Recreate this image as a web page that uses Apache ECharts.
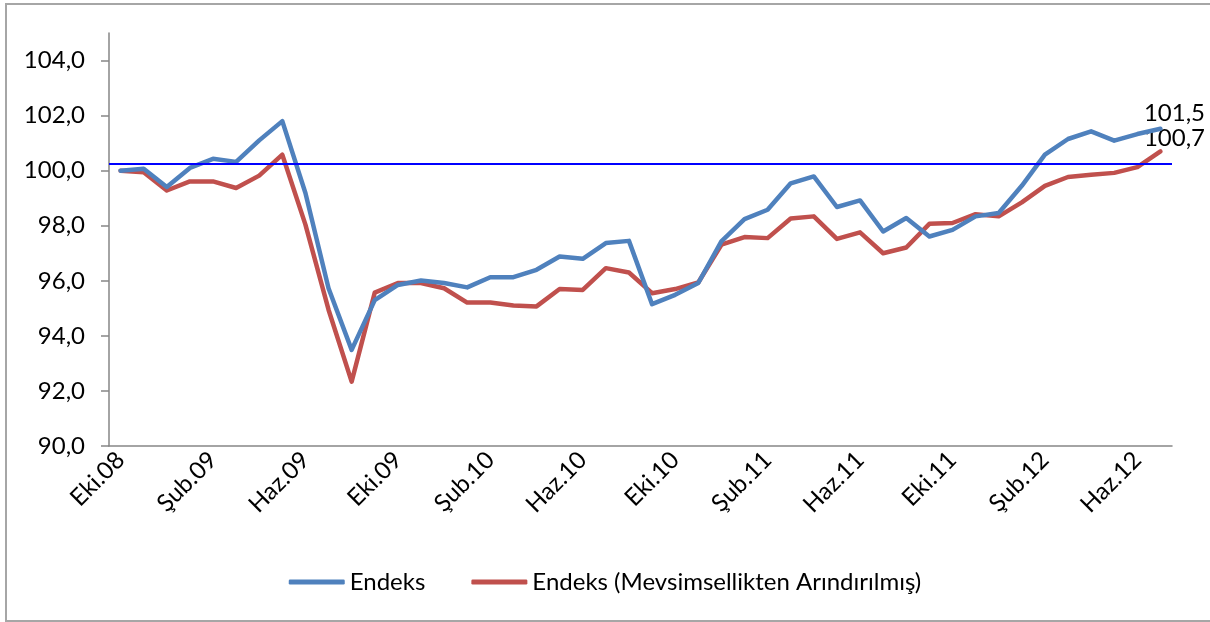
<!DOCTYPE html>
<html>
<head>
<meta charset="utf-8">
<script src="https://cdn.jsdelivr.net/npm/echarts@6/dist/echarts.min.js"></script>
<style>
  body { margin: 0; background: #ffffff; overflow: hidden; }
  #frame {
    position: absolute;
    left: 5px;
    top: 3px;
    width: 1215px;
    height: 615px;
    border: 2px solid #a6a6a6;
  }
  #main {
    position: absolute;
    left: 0;
    top: 0;
    width: 1210px;
    height: 622px;
  }
</style>
</head>
<body>
<div id="frame"></div>
<div id="main"></div>
<script>
// aylar: Eki.08 - Tem.12
var months = [
  "Eki.08", "Kas.08", "Ara.08",
  "Oca.09", "Şub.09", "Mar.09", "Nis.09", "May.09", "Haz.09", "Tem.09", "Ağu.09", "Eyl.09", "Eki.09", "Kas.09", "Ara.09",
  "Oca.10", "Şub.10", "Mar.10", "Nis.10", "May.10", "Haz.10", "Tem.10", "Ağu.10", "Eyl.10", "Eki.10", "Kas.10", "Ara.10",
  "Oca.11", "Şub.11", "Mar.11", "Nis.11", "May.11", "Haz.11", "Tem.11", "Ağu.11", "Eyl.11", "Eki.11", "Kas.11", "Ara.11",
  "Oca.12", "Şub.12", "Mar.12", "Nis.12", "May.12", "Haz.12", "Tem.12"
];

var endeks = [
  100.0, 100.07, 99.41, 100.1, 100.43, 100.32, 101.1, 101.8, 99.19, 95.73,
  93.49, 95.3, 95.85, 96.01, 95.92, 95.76, 96.13, 96.13, 96.4, 96.88,
  96.8, 97.37, 97.45, 95.15, 95.49, 95.92, 97.43, 98.24, 98.58, 99.54,
  99.79, 98.68, 98.92, 97.79, 98.28, 97.61, 97.85, 98.34, 98.46, 99.45,
  100.58, 101.15, 101.43, 101.09, 101.33, 101.52
];

var endeksMa = [
  100.0, 99.94, 99.28, 99.61, 99.61, 99.37, 99.82, 100.58, 98.04, 94.95,
  92.34, 95.57, 95.92, 95.92, 95.73, 95.21, 95.21, 95.1, 95.07, 95.7,
  95.67, 96.46, 96.3, 95.55, 95.7, 95.94, 97.31, 97.59, 97.55, 98.26,
  98.34, 97.52, 97.76, 97.0, 97.21, 98.07, 98.1, 98.42, 98.34, 98.85,
  99.45, 99.77, 99.85, 99.92, 100.13, 100.7
];

var yTicks = [90, 92, 94, 96, 98, 100, 102, 104];
var refLevel = 100.25;

var fontName = "Lato";
var fontSize = 24;

function virgul(v) {
  return Number(v).toFixed(1).replace(".", ",");
}

// sadece son noktaya etiket
function withLastLabel(arr, offset) {
  return arr.map(function (v, i) {
    if (i !== arr.length - 1) return v;
    return {
      value: v,
      label: {
        show: true,
        position: "top",
        distance: 4,
        offset: offset,
        formatter: function (p) { return virgul(p.value); },
        color: "#000000",
        fontSize: fontSize,
        fontFamily: fontName
      }
    };
  });
}

var chartDom = document.getElementById("main");
var myChart = echarts.init(chartDom);

var option = {
  animation: false,
  textStyle: { fontFamily: fontName },
  grid: {
    left: 109,
    right: 38,
    top: 33,
    bottom: 176
  },
  legend: {
    top: 565,
    left: "center",
    itemWidth: 56,
    itemHeight: 5,
    itemGap: 46,
    icon: "roundRect",
    textStyle: { fontSize: fontSize, color: "#000000", fontFamily: fontName },
    data: ["Endeks", "Endeks (Mevsimsellikten Arındırılmış)"]
  },
  xAxis: {
    type: "category",
    data: months,
    boundaryGap: true,
    axisLine: { lineStyle: { color: "#868686", width: 1.5 } },
    axisTick: {
      interval: 3,
      length: 6,
      lineStyle: { color: "#868686", width: 1.5 }
    },
    axisLabel: {
      interval: 3,
      rotate: 45,
      margin: 10,
      color: "#000000",
      fontSize: fontSize,
      fontFamily: fontName
    },
    splitLine: { show: false }
  },
  yAxis: {
    type: "value",
    min: 90,
    max: 105,
    interval: 2,
    axisLine: { show: true, lineStyle: { color: "#868686", width: 1.5 } },
    axisTick: {
      show: true,
      length: 8,
      customValues: yTicks,
      lineStyle: { color: "#868686", width: 1.5 }
    },
    axisLabel: {
      margin: 24,
      customValues: yTicks,
      color: "#000000",
      fontSize: fontSize,
      fontFamily: fontName,
      formatter: function (v) { return virgul(v); }
    },
    splitLine: { show: false }
  },
  series: [
    {
      name: "Endeks",
      type: "line",
      data: withLastLabel(endeks, [14, 0]),
      symbol: "circle",
      symbolSize: 0,
      showSymbol: true,
      lineStyle: { color: "#4f81bd", width: 4.5, join: "round", cap: "round" },
      itemStyle: { color: "#4f81bd" },
      z: 3,
      markLine: {
        silent: true,
        symbol: "none",
        label: { show: false },
        lineStyle: { color: "#0000ff", width: 2, type: "solid" },
        data: [{ yAxis: refLevel }]
      }
    },
    {
      name: "Endeks (Mevsimsellikten Arındırılmış)",
      type: "line",
      data: withLastLabel(endeksMa, [14, 3]),
      symbol: "circle",
      symbolSize: 0,
      showSymbol: true,
      lineStyle: { color: "#c0504d", width: 4.5, join: "round", cap: "round" },
      itemStyle: { color: "#c0504d" },
      z: 2
    }
  ]
};

option && myChart.setOption(option);
</script>
</body>
</html>
